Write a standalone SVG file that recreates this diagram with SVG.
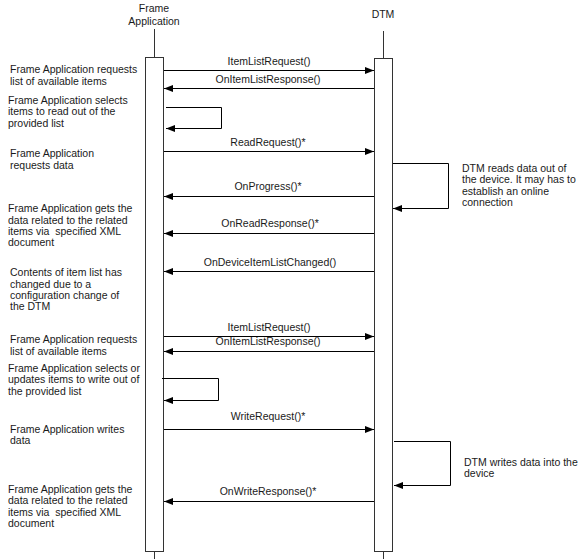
<svg xmlns="http://www.w3.org/2000/svg" width="583" height="559" viewBox="0 0 583 559">
<style>
text{font-family:"Liberation Sans",Arial,sans-serif;font-size:10.5px;fill:#1a1a1a}
.c{text-anchor:middle}
.life{stroke:#333;stroke-width:1;fill:none}
.box{fill:#fff;stroke:#333;stroke-width:1}
.msg{stroke:#000;stroke-width:1;fill:none;marker-end:url(#ah)}
</style>
<defs>
<marker id="ah" markerUnits="userSpaceOnUse" markerWidth="10" markerHeight="8" refX="9" refY="4" orient="auto">
<path d="M0,0.5 L9,4 L0,7.5 Z" fill="#000"/>
</marker>
</defs>
<rect width="583" height="559" fill="#fff"/>
<g id="frame-application">
<text class="c" x="154" y="12">Frame</text>
<text class="c" x="154" y="25">Application</text>
<line class="life" x1="154.5" y1="29" x2="154.5" y2="559"/>
<rect class="box" x="145.5" y="57.5" width="18" height="494"/>
</g>
<g id="dtm">
<text class="c" x="383" y="18">DTM</text>
<line class="life" x1="383.5" y1="31" x2="383.5" y2="559"/>
<rect class="box" x="374.5" y="58.5" width="18" height="493"/>
</g>
<g id="connectors">
<line class="msg" x1="164" y1="70.5" x2="374" y2="70.5"/>
<line class="msg" x1="374" y1="88.5" x2="164" y2="88.5"/>
<polyline class="msg" points="166,107.5 221.5,107.5 221.5,128.5 166,128.5"/>
<line class="msg" x1="164" y1="151.5" x2="374" y2="151.5"/>
<polyline class="msg" points="393,163.5 448.5,163.5 448.5,208.5 393,208.5"/>
<line class="msg" x1="374" y1="196.5" x2="164" y2="196.5"/>
<line class="msg" x1="374" y1="233.5" x2="164" y2="233.5"/>
<line class="msg" x1="374" y1="271.5" x2="164" y2="271.5"/>
<line class="msg" x1="164" y1="336.5" x2="374" y2="336.5"/>
<line class="msg" x1="374" y1="351.5" x2="164" y2="351.5"/>
<polyline class="msg" points="162,378.5 218.5,378.5 218.5,400.5 164,400.5"/>
<line class="msg" x1="164" y1="429.5" x2="374" y2="429.5"/>
<polyline class="msg" points="394,441.5 450.5,441.5 450.5,485.5 394,485.5"/>
<line class="msg" x1="374" y1="501.5" x2="164" y2="501.5"/>
</g>
<g id="message-labels">
<text class="c" x="269" y="65">ItemListRequest()</text>
<text class="c" x="268" y="83">OnItemListResponse()</text>
<text class="c" x="268" y="146">ReadRequest()*</text>
<text class="c" x="268" y="190">OnProgress()*</text>
<text class="c" x="270" y="227">OnReadResponse()*</text>
<text class="c" x="270" y="266">OnDeviceItemListChanged()</text>
<text class="c" x="269" y="331">ItemListRequest()</text>
<text class="c" x="268" y="345">OnItemListResponse()</text>
<text class="c" x="268" y="420">WriteRequest()*</text>
<text class="c" x="268" y="495">OnWriteResponse()*</text>
</g>
<g id="notes-left">
<text x="10" y="73">Frame Application requests</text>
<text x="10" y="85">list of available items</text>
<text x="8" y="104">Frame Application selects</text>
<text x="8" y="115">items to read out of the</text>
<text x="8" y="127">provided list</text>
<text x="10" y="157">Frame Application</text>
<text x="10" y="169">requests data</text>
<text x="8" y="212">Frame Application gets the</text>
<text x="8" y="224">data related to the related</text>
<text x="8" y="235">items via &#160;specified XML</text>
<text x="8" y="246">document</text>
<text x="10" y="276">Contents of item list has</text>
<text x="10" y="288">changed due to a</text>
<text x="10" y="299">configuration change of</text>
<text x="10" y="310">the DTM</text>
<text x="10" y="343">Frame Application requests</text>
<text x="10" y="355">list of available items</text>
<text x="8" y="372">Frame Application selects or</text>
<text x="8" y="383">updates items to write out of</text>
<text x="8" y="395">the provided list</text>
<text x="10" y="433">Frame Application writes</text>
<text x="10" y="444">data</text>
<text x="8" y="493">Frame Application gets the</text>
<text x="8" y="504">data related to the related</text>
<text x="8" y="516">items via &#160;specified XML</text>
<text x="8" y="527">document</text>
</g>
<g id="notes-right">
<text x="462" y="172">DTM reads data out of</text>
<text x="462" y="183">the device. It may has to</text>
<text x="462" y="195">establish an online</text>
<text x="462" y="206">connection</text>
<text x="464" y="466">DTM writes data into the</text>
<text x="464" y="477">device</text>
</g>
</svg>
